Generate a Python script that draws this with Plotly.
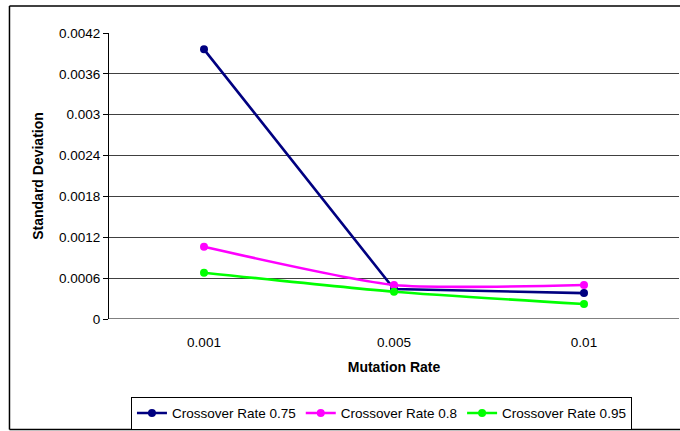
import plotly.graph_objects as go

# Mutation rates on the category axis
mutation_rates = ["0.001", "0.005", "0.01"]

# Standard deviation per crossover rate
sd_cr_075 = [0.00396, 0.00044, 0.00038]
sd_cr_080 = [0.00106, 0.00050, 0.00050]
sd_cr_095 = [0.00068, 0.00040, 0.00022]

y_ticks = [0, 0.0006, 0.0012, 0.0018, 0.0024, 0.003, 0.0036, 0.0042]
y_tick_text = ["0", "0.0006", "0.0012", "0.0018", "0.0024", "0.003", "0.0036", "0.0042"]

series = [
    ("Crossover Rate 0.75", sd_cr_075, "#000080", "linear"),
    ("Crossover Rate 0.8", sd_cr_080, "#FF00FF", "spline"),
    ("Crossover Rate 0.95", sd_cr_095, "#00FF00", "spline"),
]

font = "Liberation Sans, Arial, sans-serif"

fig = go.Figure()
for name, vals, color, shape in series:
    fig.add_trace(go.Scatter(
        x=mutation_rates, y=vals, name=name, mode="lines+markers",
        line=dict(color=color, width=2.6, shape=shape, smoothing=0.6),
        marker=dict(color=color, size=8),
    ))

frame = dict(color="black", width=1.5)
fig.update_layout(
    width=680, height=431,
    margin=dict(l=109, r=1, t=33, b=112),
    paper_bgcolor="white", plot_bgcolor="white",
    font=dict(family=font, size=14, color="black"),
    showlegend=True,
    legend=dict(
        orientation="h", x=0.478, xanchor="center", y=-0.272, yanchor="top",
        bordercolor="black", borderwidth=1, bgcolor="white",
        font=dict(size=13.5), itemwidth=30, tracegroupgap=0,
    ),
    xaxis=dict(
        type="category", range=[-0.5, 2.5], showgrid=False, zeroline=False,
        showline=False, ticks="", tickfont=dict(size=13.5), ticklabelstandoff=13,
        title=dict(text="<b>Mutation Rate</b>", font=dict(size=14), standoff=13),
    ),
    yaxis=dict(
        range=[0, 0.0042], tickvals=y_ticks, ticktext=y_tick_text,
        showgrid=True, gridcolor="#404040", gridwidth=1, zeroline=False,
        showline=True, linecolor="black", linewidth=1,
        ticks="outside", ticklen=5, tickcolor="black",
        tickfont=dict(size=13.5),
        title=dict(text="<b>Standard Deviation</b>", font=dict(size=14), standoff=12),
    ),
    shapes=[
        # outer chart frame: left, top and bottom edges
        dict(type="line", xref="paper", yref="paper",
             x0=-0.1746, x1=-0.1746, y0=-0.3864, y1=1.0944, line=frame),
        dict(type="line", xref="paper", yref="paper",
             x0=-0.1746, x1=1.01, y0=1.0944, y1=1.0944, line=frame),
        dict(type="line", xref="paper", yref="paper",
             x0=-0.1746, x1=1.01, y0=-0.3864, y1=-0.3864, line=frame),
        # base line at zero
        dict(type="line", xref="paper", yref="y", x0=0, x1=1, y0=0, y1=0,
             line=dict(color="black", width=1)),
    ],
)

fig.write_html("out.html")
